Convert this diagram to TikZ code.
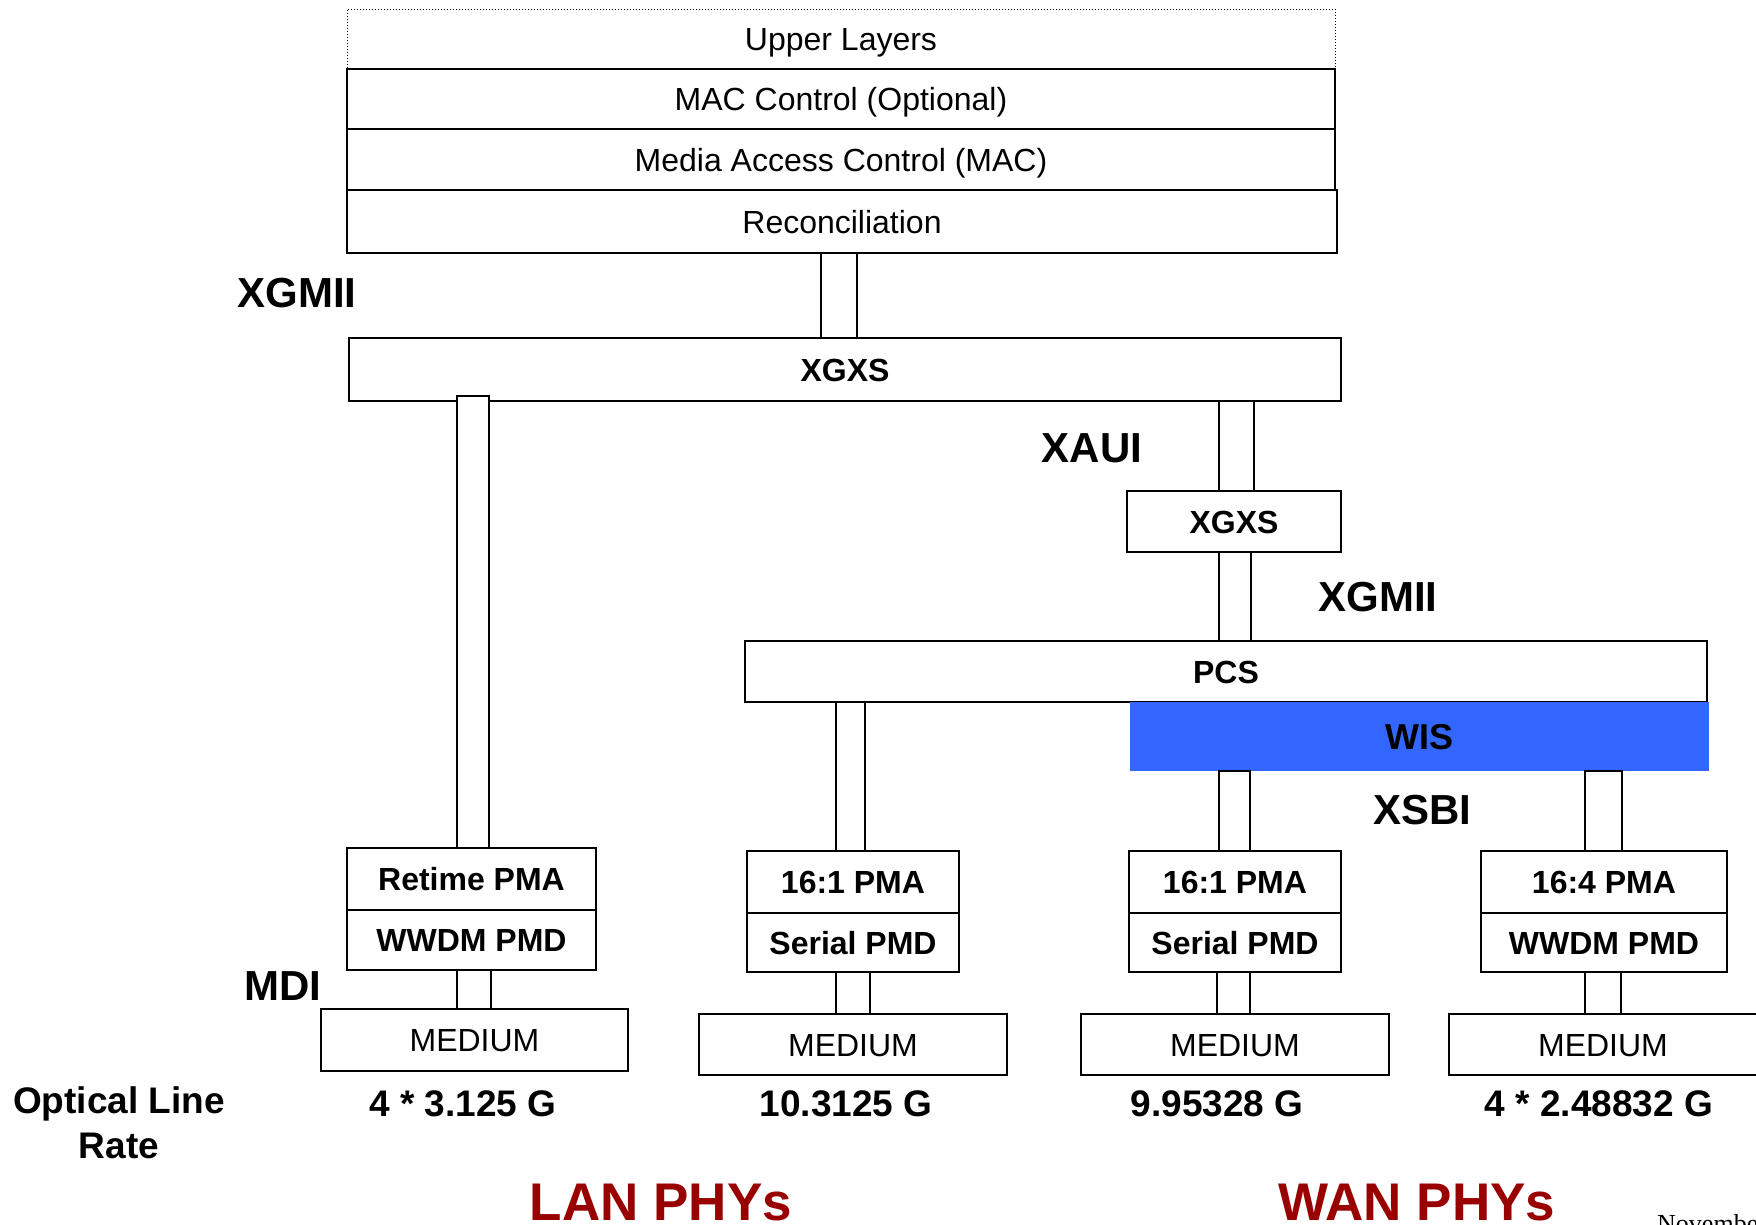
\documentclass[tikz,border=0pt]{standalone}
\usepackage{fontspec}
\setmainfont{Liberation Sans}
\newfontfamily\seriffont{Liberation Serif}
\definecolor{wisblue}{HTML}{3366FF}
\definecolor{phyred}{HTML}{990000}
\tikzset{
  box/.style={draw, line width=2pt, inner sep=0pt, outer sep=0pt, anchor=north west,
    text height=23pt, text depth=0pt, font=\fontsize{32}{36}\selectfont},
  bbox/.style={box, font=\bfseries\fontsize{32}{36}\selectfont},
  conn/.style={draw, line width=1.5pt, fill=white},
  lbl/.style={font=\bfseries\fontsize{42}{46}\selectfont, inner sep=0pt},
  rate/.style={font=\bfseries\fontsize{37}{45}\selectfont, inner sep=0pt},
  phy/.style={font=\bfseries\fontsize{53}{58}\selectfont, text=phyred, inner sep=0pt, anchor=base}
}
\begin{document}
\begin{tikzpicture}[x=1pt,y=-1pt]
\useasboundingbox (0,0) rectangle (1756,1224);
\clip (0,0) rectangle (1756,1224);
% upper stack
\node[box, line width=1pt, dotted, minimum width=988, minimum height=60] (upper) at (347,9) {Upper Layers};
\node[box, minimum width=988, minimum height=60] (macc) at (347,69) {MAC Control (Optional)};
\node[box, minimum width=988, minimum height=61] (mac) at (347,129) {Media Access Control (MAC)};
\node[box, minimum width=990, minimum height=63] (recon) at (347,190) {Reconciliation};
\node[bbox, minimum width=992, minimum height=63] (xgxs) at (349,338) {XGXS};
\node[bbox, minimum width=214, minimum height=61] (xgxs2) at (1127,491) {XGXS};
\node[bbox, minimum width=962, minimum height=61] (pcs) at (745,641) {PCS};
\node[bbox, draw=none, fill=wisblue, minimum width=579, minimum height=69, text height=26pt,
  font=\bfseries\fontsize{36}{40}\selectfont] (wis) at (1130,702) {WIS};
% PHY stacks
\node[bbox, minimum width=249, minimum height=62] (retime) at (347,848) {Retime PMA};
\node[bbox, minimum width=249, minimum height=60] (wwdma) at (347,910) {WWDM PMD};
\node[box, minimum width=307, minimum height=62] (meda) at (321,1009) {MEDIUM};
\node[bbox, minimum width=212, minimum height=62] (pmab) at (747,851) {16:1 PMA};
\node[bbox, minimum width=212, minimum height=59] (serb) at (747,913) {Serial PMD};
\node[box, minimum width=308, minimum height=61] (medb) at (699,1014) {MEDIUM};
\node[bbox, minimum width=212, minimum height=62] (pmac) at (1129,851) {16:1 PMA\hspace{28pt}};
\node[bbox, minimum width=212, minimum height=59] (serc) at (1129,913) {Serial PMD};
\node[box, minimum width=308, minimum height=61] (medc) at (1081,1014) {MEDIUM};
\node[bbox, minimum width=246, minimum height=62] (pmad) at (1481,851) {16:4 PMA};
\node[bbox, minimum width=246, minimum height=59] (wwdmd) at (1481,913) {WWDM PMD};
\node[box, minimum width=308, minimum height=61] (medd) at (1449,1014) {MEDIUM};
% connectors
\draw[conn] (821,0 |- recon.south) rectangle (857,0 |- xgxs.north);
\draw[conn] (457,0 |- xgxs.south) ++(0,-5) rectangle (489,0 |- retime.north);
\draw[conn] (1219,0 |- xgxs.south) rectangle (1254,0 |- xgxs2.north);
\draw[conn] (1219,0 |- xgxs2.south) rectangle (1251,0 |- pcs.north);
\draw[conn] (836,0 |- pcs.south) rectangle (865,0 |- pmab.north);
\draw[conn] (1219,0 |- wis.south) rectangle (1250,0 |- pmac.north);
\draw[conn] (1585,0 |- wis.south) rectangle (1622,0 |- pmad.north);
\draw[conn] (457,0 |- wwdma.south) rectangle (491,0 |- meda.north);
\draw[conn] (836,0 |- serb.south) rectangle (870,0 |- medb.north);
\draw[conn] (1217,0 |- serc.south) rectangle (1250,0 |- medc.north);
\draw[conn] (1585,0 |- wwdmd.south) rectangle (1621,0 |- medd.north);
% interface labels
\node[lbl] (l1) at (297,293) {XGMII};
\node[lbl] (l2) at (1092,448) {XAUI};
\node[lbl] (l3) at (1378,597) {XGMII};
\node[lbl] (l4) at (1422,810) {XSBI};
\node[lbl] (l5) at (283,986) {MDI};
% rates
\node[rate, align=center] (olr) at (119,1123) {Optical Line\\Rate};
\node[rate] (r1) at (463,1104) {4 * 3.125 G};
\node[rate] (r2) at (846,1104) {10.3125 G};
\node[rate] (r3) at (1217,1104) {9.95328 G};
\node[rate] (r4) at (1599,1104) {4 * 2.48832 G};
% PHY group labels
\node[phy] (lan) at (661,1220) {LAN PHYs};
\node[phy] (wan) at (1417,1220) {WAN PHYs};
\node[anchor=base west, inner sep=0pt, font=\seriffont\fontsize{26}{28}\selectfont] (nov) at (1657,1232) {November};
\end{tikzpicture}
\end{document}
